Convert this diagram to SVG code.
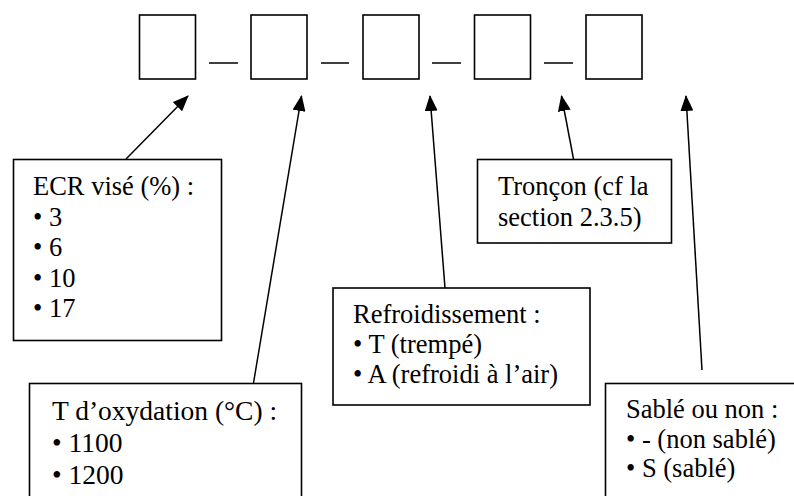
<svg xmlns="http://www.w3.org/2000/svg" width="794" height="496" viewBox="0 0 794 496">
  <style>
    .slot { fill: #fff; stroke: #000; stroke-width: 1.6; }
    .box { fill: #fff; stroke: #000; stroke-width: 1.6; }
    .dash { stroke: #000; stroke-width: 1.5; }
    .conn { stroke: #000; stroke-width: 1.5; fill: none; }
    text { font-family: "Liberation Serif", "Times New Roman", serif; font-size: 26.5px; fill: #000; }
    .big { font-size: 27.5px; }
  </style>
  <defs>
    <marker id="arrow" markerUnits="userSpaceOnUse" viewBox="0 0 16 13" refX="15" refY="6.5" markerWidth="16" markerHeight="13" orient="auto">
      <path d="M0,0 L16,6.5 L0,13 z" fill="#000"/>
    </marker>
  </defs>

  <rect width="794" height="496" fill="#fff"/>

  <g id="code">
    <rect id="slot1" class="slot" x="139.5" y="15" width="56" height="64"/>
    <rect id="slot2" class="slot" x="251" y="15" width="56" height="64"/>
    <rect id="slot3" class="slot" x="363" y="15" width="56" height="64"/>
    <rect id="slot4" class="slot" x="474.5" y="15" width="56" height="64"/>
    <rect id="slot5" class="slot" x="586" y="15" width="56" height="64"/>
    <line class="dash" x1="209" y1="63" x2="238" y2="63"/>
    <line class="dash" x1="321" y1="63" x2="349" y2="63"/>
    <line class="dash" x1="432" y1="63" x2="461" y2="63"/>
    <line class="dash" x1="544" y1="63" x2="573" y2="63"/>
  </g>

  <g id="connectors">
    <line class="conn" x1="126" y1="159" x2="188" y2="96" marker-end="url(#arrow)"/>
    <line class="conn" x1="253.5" y1="383" x2="301.5" y2="96" marker-end="url(#arrow)"/>
    <line class="conn" x1="445" y1="288" x2="430" y2="96" marker-end="url(#arrow)"/>
    <line class="conn" x1="573.5" y1="159" x2="561.5" y2="96" marker-end="url(#arrow)"/>
    <line class="conn" x1="702" y1="370" x2="686" y2="96" marker-end="url(#arrow)"/>
  </g>

  <g id="ecr">
    <rect class="box" x="13.5" y="159.5" width="208" height="181"/>
    <text x="33" y="195">ECR visé (%) :</text>
    <text x="33" y="225.5">• 3</text>
    <text x="33" y="256">• 6</text>
    <text x="33" y="286.5">• 10</text>
    <text x="33" y="317">• 17</text>
  </g>

  <g id="oxydation">
    <rect class="box" x="29.5" y="383.5" width="272" height="130"/>
    <text class="big" x="52" y="420">T d’oxydation (°C) :</text>
    <text class="big" x="52" y="452">• 1100</text>
    <text class="big" x="52" y="483.5">• 1200</text>
  </g>

  <g id="refroidissement">
    <rect class="box" x="333" y="288" width="257" height="117"/>
    <text x="353" y="322.5">Refroidissement :</text>
    <text x="353" y="352.5">• T (trempé)</text>
    <text x="353" y="382.5">• A (refroidi à l’air)</text>
  </g>

  <g id="troncon">
    <rect class="box" x="477.5" y="159.5" width="194" height="83.5"/>
    <text x="498" y="195">Tronçon (cf la</text>
    <text x="498" y="225.5">section 2.3.5)</text>
  </g>

  <g id="sable">
    <rect class="box" x="605.5" y="383.5" width="210" height="130"/>
    <text x="626" y="418">Sablé ou non :</text>
    <text x="626" y="448">• - (non sablé)</text>
    <text x="626" y="477">• S (sablé)</text>
  </g>
</svg>
